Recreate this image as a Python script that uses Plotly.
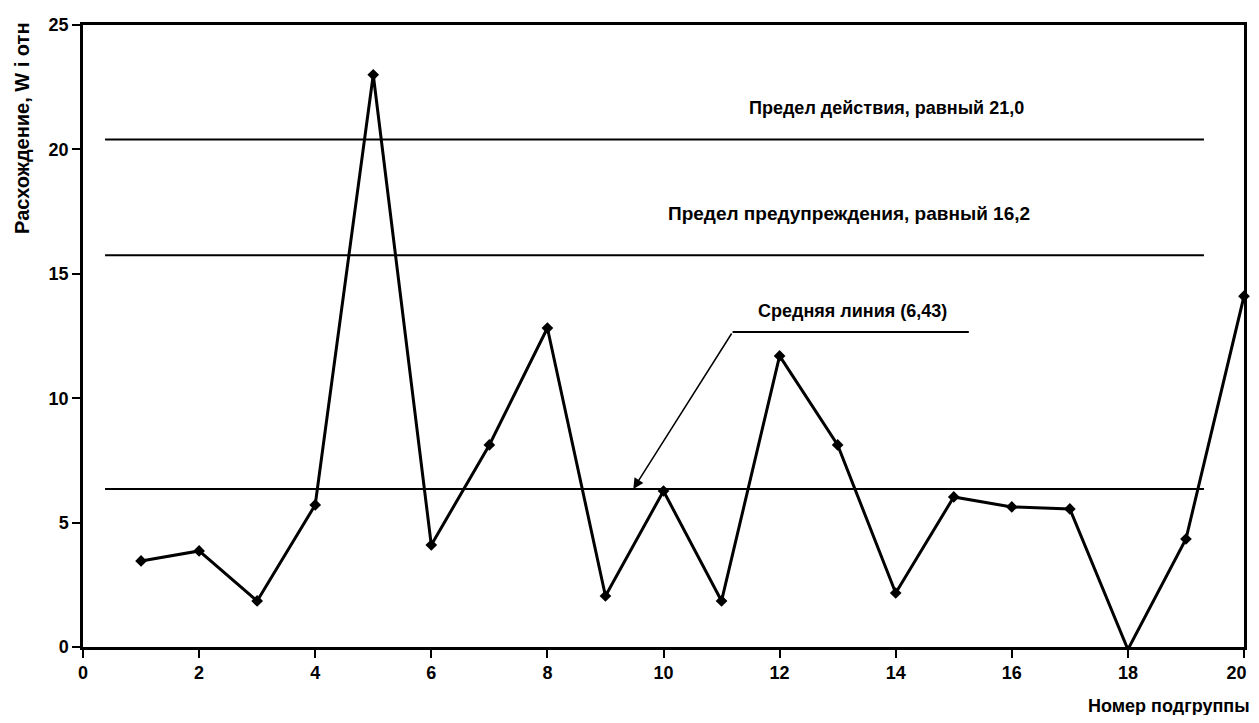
import plotly.graph_objects as go

# Data
subgroups = list(range(1, 21))
divergence = [3.46, 3.86, 1.85, 5.71, 23.0, 4.1, 8.12, 12.82, 2.05, 6.27,
              1.85, 11.7, 8.12, 2.17, 6.03, 5.63, 5.55, -0.1, 4.34, 14.1]

limit_x = [0.38, 19.31]
action_limit = 20.4
warning_limit = 15.75
mean_line = 6.35

x_ticks = [0, 2, 4, 6, 8, 10, 12, 14, 16, 18, 20]
y_ticks = [0, 5, 10, 15, 20, 25]

action_label = "Предел действия, равный 21,0"
warning_label = "Предел предупреждения, равный 16,2"
mean_label = "Средняя линия (6,43)"
x_title = "Номер подгруппы"
y_title = "Расхождение, W i отн"

# leader line for mean label (data coords)
leader_x = [11.19, 15.26]
leader_y = [12.66, 12.66]
arrow_tip = (9.48, 6.35)

FONT = "Liberation Sans, Arial, sans-serif"

fig = go.Figure()

for yv in (action_limit, warning_limit, mean_line):
    fig.add_trace(go.Scatter(x=limit_x, y=[yv, yv], mode="lines",
                             line=dict(color="black", width=2),
                             hoverinfo="skip", showlegend=False))

fig.add_trace(go.Scatter(x=leader_x, y=leader_y, mode="lines",
                         line=dict(color="black", width=2),
                         hoverinfo="skip", showlegend=False))

fig.add_trace(go.Scatter(x=subgroups, y=divergence, mode="lines+markers",
                         line=dict(color="black", width=3),
                         marker=dict(symbol="diamond", size=9, color="black"),
                         cliponaxis=False, showlegend=False))

fig.add_annotation(x=arrow_tip[0], y=arrow_tip[1], ax=leader_x[0], ay=leader_y[0],
                   xref="x", yref="y", axref="x", ayref="y", text="",
                   showarrow=True, arrowhead=2, arrowsize=1.4, arrowwidth=1.5,
                   arrowcolor="black")

text_font = dict(family=FONT, size=18, color="black")
fig.add_annotation(x=13.84, y=21.66, xref="x", yref="y", text="<b>%s</b>" % action_label,
                   showarrow=False, font=text_font)
fig.add_annotation(x=13.2, y=17.44, xref="x", yref="y", text="<b>%s</b>" % warning_label,
                   showarrow=False, font=dict(family=FONT, size=19, color="black"))
fig.add_annotation(x=13.26, y=13.5, xref="x", yref="y", text="<b>%s</b>" % mean_label,
                   showarrow=False, font=text_font)

fig.add_annotation(x=-0.0525, y=0.833, xref="paper", yref="paper",
                   text="<b>%s</b>" % y_title, textangle=-90, showarrow=False,
                   xanchor="center", yanchor="middle",
                   font=dict(family=FONT, size=20, color="black"))
fig.add_annotation(x=1.0069, y=-0.095, xref="paper", yref="paper",
                   text="<b>%s</b>" % x_title, showarrow=False,
                   xanchor="right", yanchor="middle",
                   font=dict(family=FONT, size=18, color="black"))

axis_common = dict(showgrid=False, zeroline=False, showline=True, mirror=True,
                   linecolor="black", linewidth=2.5, ticks="outside", ticklen=8,
                   tickwidth=2, tickcolor="black", automargin=False,
                   tickfont=dict(family=FONT, size=18, color="black"))

x_ticktext = ["<b>%d</b>" % v for v in x_ticks]
x_ticktext[-1] = "<b>%d</b>\u00a0\u00a0\u00a0" % x_ticks[-1]

fig.update_xaxes(range=[0, 20], tickvals=x_ticks, ticktext=x_ticktext,
                 ticklabeloverflow="allow", **axis_common)
fig.update_yaxes(range=[0, 25], tickvals=y_ticks, ticktext=["<b>%d</b>" % v for v in y_ticks],
                 **axis_common)

fig.update_layout(width=1251, height=707, plot_bgcolor="white", paper_bgcolor="white",
                  margin=dict(l=75, r=15, t=17, b=68, autoexpand=False), showlegend=False)

fig.write_html("out.html")
